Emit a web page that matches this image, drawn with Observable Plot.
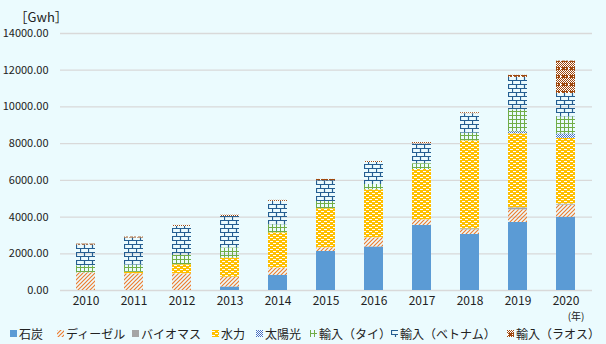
<!DOCTYPE html>
<html>
<head>
<meta charset="utf-8">
<script src="https://cdn.jsdelivr.net/npm/d3@7"></script>
<script src="https://cdn.jsdelivr.net/npm/@observablehq/plot@0.6"></script>
<style>
  html, body { margin: 0; padding: 0; background: #EBFBFE; }
  #wrap { position: relative; width: 606px; height: 344px; font-family: "Noto Sans CJK JP", "Noto Sans", sans-serif; }
  #chart { position: absolute; left: 0; top: 0; }
  #legend { position: absolute; left: 0; top: 323px; width: 606px; height: 20px; font-size: 12px; color: #222; }
  .item { position: absolute; top: 0; display: flex; align-items: center; height: 20px; white-space: nowrap; }
  .item svg { margin-right: 2px; }
</style>
</head>
<body>
<svg width="0" height="0" style="position:absolute">
  <defs>
    <pattern id="p-diesel" patternUnits="userSpaceOnUse" width="4" height="4">
      <path d="M-1,1 L1,-1 M0,4 L4,0 M3,5 L5,3" stroke="#ED7D31" stroke-width="1.2"/>
    </pattern>
    <pattern id="p-hydro" patternUnits="userSpaceOnUse" width="6" height="4">
      <rect width="6" height="4" fill="#FFC000"/>
      <rect x="0" y="1" width="3" height="1" fill="#ffffff"/>
      <rect x="3" y="3" width="3" height="1" fill="#ffffff"/>
    </pattern>
    <pattern id="p-solar" patternUnits="userSpaceOnUse" width="2" height="2">
      <rect width="2" height="2" fill="#ffffff"/>
      <rect x="0" y="0" width="1" height="1" fill="#4472C4"/>
      <rect x="1" y="1" width="1" height="1" fill="#4472C4"/>
    </pattern>
    <pattern id="p-thai" patternUnits="userSpaceOnUse" width="4" height="4">
      <path d="M0.5,0 V4 M0,3.5 H4" stroke="#70AD47" stroke-width="1"/>
    </pattern>
    <pattern id="p-viet" patternUnits="userSpaceOnUse" width="8" height="8">
      <path d="M0,0.5 H8 M0,4.5 H8 M0.5,0 V4.5 M4.5,4.5 V8" stroke="#255E91" stroke-width="1.2"/>
    </pattern>
    <pattern id="p-lao" patternUnits="userSpaceOnUse" width="8" height="8">
      <rect width="8" height="8" fill="#ffffff"/>
      <path d="M0,0h1v1h-1z M2,0h1v1h-1z M4,0h1v1h-1z M6,0h1v1h-1z M1,1h1v1h-1z M3,1h1v1h-1z M5,1h1v1h-1z M7,1h1v1h-1z M0,2h1v1h-1z M2,2h1v1h-1z M4,2h1v1h-1z M6,2h1v1h-1z M1,7h1v1h-1z M3,7h1v1h-1z M5,7h1v1h-1z M7,7h1v1h-1z M0,6h1v1h-1z M2,6h1v1h-1z M4,6h1v1h-1z M6,6h1v1h-1z M1,3h1v1h-1z M5,3h1v1h-1z M1,5h1v1h-1z M5,5h1v1h-1z" fill="#9E480E"/>
      <rect x="2" y="3" width="3" height="3" fill="#9E480E"/>
      <rect x="6" y="3" width="2" height="3" fill="#9E480E"/>
    </pattern>
  </defs>
</svg>
<div id="wrap">
  <div id="chart"></div>
  <div id="legend"></div>
</div>
<script>
const years = ["2010","2011","2012","2013","2014","2015","2016","2017","2018","2019","2020"];
const seriesNames = ["石炭","ディーゼル","バイオマス","水力","太陽光","輸入（タイ）","輸入（ベトナム）","輸入（ラオス）"];
const coal          = [0, 0, 0, 180, 820, 2125, 2360, 3540, 3050, 3705, 3980];
const diesel        = [960, 910, 910, 545, 400, 200, 510, 310, 255, 690, 670];
const biomass       = [0, 0, 0, 0, 0, 0, 0, 0, 55, 110, 55];
const hydro         = [0, 80, 490, 1035, 1910, 2125, 2615, 2740, 4780, 4035, 3580];
const solar         = [0, 0, 0, 0, 0, 0, 0, 0, 0, 110, 235];
const importThai    = [380, 400, 510, 545, 455, 400, 290, 310, 435, 1180, 945];
const importVietnam = [1130, 1470, 1580, 1725, 1270, 1130, 1200, 1090, 1055, 1780, 1270];
const importLao     = [55, 50, 55, 70, 55, 70, 55, 70, 55, 110, 1760];
const yTicks = [0, 2000, 4000, 6000, 8000, 10000, 12000, 14000];

const seriesValues = [coal, diesel, biomass, hydro, solar, importThai, importVietnam, importLao];
const fills = ["#5B9BD5", "url(#p-diesel)", "#A5A5A5", "url(#p-hydro)", "url(#p-solar)", "url(#p-thai)", "url(#p-viet)", "url(#p-lao)"];

const table = years.flatMap((yr, i) => seriesNames.map((s, k) => ({year: yr, series: s, value: seriesValues[k][i]})));

const chart = Plot.plot({
  width: 606,
  height: 326,
  marginTop: 33,
  marginBottom: 36,
  marginLeft: 60,
  marginRight: 14,
  style: {fontFamily: "'Noto Sans CJK JP', 'Noto Sans', sans-serif", fontSize: "11px", color: "#222", background: "transparent"},
  x: {domain: years, paddingInner: 0.6, paddingOuter: 0.3, label: null},
  y: {domain: [0, 14000], label: null},
  color: {type: "ordinal", domain: seriesNames, range: fills},
  marks: [
    Plot.ruleY(yTicks, {stroke: "#D9D9D9", strokeWidth: 1.3}),
    Plot.rectY(table, {x: "year", y: "value", fill: "series"}),
    Plot.axisY({ticks: yTicks, tickSize: 0, tickPadding: 12, tickFormat: d => d.toFixed(2), fontSize: 11}),
    Plot.axisX({tickSize: 0, tickPadding: 6, fontSize: 12}),
    Plot.text(["［Gwh］"], {text: d => d, frameAnchor: "top-left", textAnchor: "start", dx: -46, dy: -21, fontSize: 13}),
    Plot.text(["(年)"], {text: d => d, frameAnchor: "bottom-right", textAnchor: "end", dx: -8, dy: 29, fontSize: 10})
  ]
});
document.getElementById("chart").appendChild(chart);

const legendX = [10, 57, 132, 212, 256, 310, 391, 507];
const legend = document.getElementById("legend");
seriesNames.forEach((s, k) => {
  const div = document.createElement("div");
  div.className = "item";
  div.style.left = legendX[k] + "px";
  div.innerHTML = `<svg width="7" height="7"><rect width="7" height="7" fill="${fills[k]}"/></svg><span>${s}</span>`;
  legend.appendChild(div);
});
</script>
</body>
</html>
